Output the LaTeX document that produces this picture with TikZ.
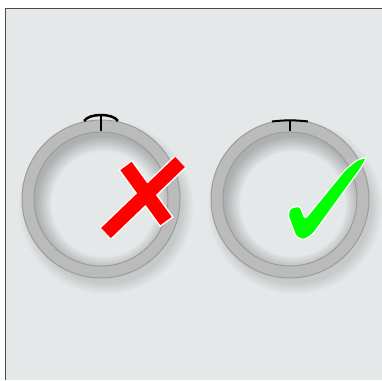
\documentclass[tikz,border=0pt]{standalone}
\usetikzlibrary{calc}
\definecolor{panelbg}{HTML}{E4E8E8}
\definecolor{framegray}{HTML}{4A4A4A}
\definecolor{ringgray}{HTML}{BBBBBB}
\definecolor{ringline}{HTML}{9C9C9C}
\definecolor{crossred}{HTML}{FF0000}
\definecolor{checkgreen}{HTML}{00FF00}
\begin{document}
\begin{tikzpicture}[x=1pt, y=-1pt,
  ringedge/.style={draw=ringline, line width=1pt},
  needle/.style={draw=black, line width=2pt},
  crossbar/.style={draw=crossred, line width=14pt},
  crossrim/.style={draw=white, line width=17pt, shorten <=-1.5pt, shorten >=-1.5pt}]
  \useasboundingbox (0,0) rectangle (382,380);
  \fill[white] (0,0) rectangle (382,380);
  \fill[panelbg] (5.5,8.5) rectangle (382,380);
  \draw[framegray, line width=1.5pt] (5.5,380) -- (5.5,8.5) -- (382,8.5);

  \coordinate (bad) at (101,199);
  \coordinate (good) at (290,199);

  % rings with their shadows
  \foreach \c in {bad,good}{
    \foreach \k in {0,2,...,10}
      \fill[black, opacity=0.018] ([shift={(5,8)}]\c) circle (77+\k);
    \fill[ringgray] (\c) circle (79);
    \fill[panelbg] (\c) circle (67);
    \begin{scope}
      \clip (\c) circle (67);
      \foreach \k in {0,2,...,14}
        \fill[black, opacity=0.03, even odd rule] (\c) circle (90) ([shift={(3,5)}]\c) circle (67-\k);
    \end{scope}
    \draw[ringedge] (\c) circle (79) (\c) circle (67);
  }

  % marks on top of the rings
  \draw[needle] (101,116) -- (101,131);
  \draw[black, line width=2.5pt] (84,121) .. controls (89,113) and (113,113) .. (118,121);
  \draw[needle] (290,121) -- (290,131);
  \draw[black, line width=2pt] (272,121.5) .. controls (284,120) and (296,120) .. (308,121.5);

  % cross
  \draw[crossrim] (106,233) -- (180,162) (126,166) -- (166,221);
  \draw[crossbar] (106,233) -- (180,162) (126,166) -- (166,221);

  % tick
  \filldraw[draw=white, line width=1.2pt, fill=checkgreen, rounded corners=3pt]
    (288,215) -- (290,208) -- (300,206) -- (305,219) -- (345,170)
    -- (357,160) -- (367,157) -- (361,168) -- (313,234) -- (304,240)
    -- (296,237) -- cycle;
\end{tikzpicture}
\end{document}
